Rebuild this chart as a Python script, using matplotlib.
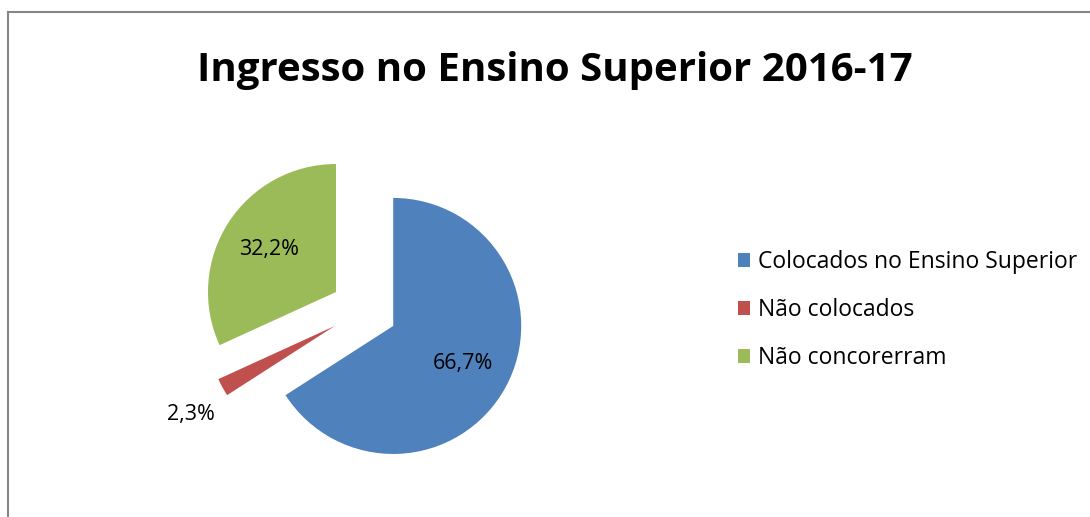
import matplotlib.pyplot as plt
from matplotlib.lines import Line2D
import numpy as np

# ── Data ───────────────────────────────────────────────
categories = ['Colocados no Ensino Superior', 'Não colocados', 'Não concorerram']
values     = [66.7, 2.3, 32.2]
colors     = ['#4F81BD', '#C0504D', '#9BBB59']
title      = 'Ingresso no Ensino Superior 2016-17'

plt.rcParams['font.family'] = ['Open Sans', 'DejaVu Sans']

W, H = 1090, 517
fig = plt.figure(figsize=(W / 100, H / 100), dpi=100, facecolor='white')

# chart area border (left + top only visible)
fig.add_artist(Line2D([8 / W, 8 / W], [0, 1 - 12 / H], color='#868686', lw=1.5))
fig.add_artist(Line2D([8 / W, 1], [1 - 12 / H, 1 - 12 / H], color='#868686', lw=1.5))

fig.text(555 / W, 1 - 70 / H, title, ha='center', va='center',
         fontsize=29, fontweight='bold', color='black')

# ── Pie ────────────────────────────────────────────────
R_PX = 128
LIM = 1.6
side = 2 * LIM * R_PX
cx, cy = 364, 310
ax = fig.add_axes([(cx - side / 2) / W, (H - cy - side / 2) / H, side / W, side / H])

wedges, texts, autotexts = ax.pie(
    values, colors=colors, startangle=90, counterclock=False,
    explode=[0.26] * 3, radius=1,
    autopct='%1.1f', pctdistance=0.62,
    textprops={'fontsize': 15.5, 'color': 'black'},
    wedgeprops={'linewidth': 0})
# show the values as given (comma decimal)
for t, v in zip(autotexts, values):
    t.set_text(f'{v:.1f}%'.replace('.', ','))
ax.set_xlim(-LIM, LIM)
ax.set_ylim(-LIM, LIM)
ax.set_aspect('equal')

# small slice: label outside
w = wedges[1]
mid = np.deg2rad((w.theta1 + w.theta2) / 2)
c = w.center
autotexts[1].set_position((c[0] + 1.3 * np.cos(mid) + 0.02, c[1] + 1.3 * np.sin(mid) - 0.07))

# ── Legend ─────────────────────────────────────────────
fig.legend(wedges, categories, loc='center left', bbox_to_anchor=(717 / W, 1 - 310 / H),
           frameon=False, fontsize=16.5, handlelength=0.55, handleheight=0.55,
           handletextpad=0.35, labelspacing=1.05)

fig.savefig('out.png', dpi=100, facecolor='white')
